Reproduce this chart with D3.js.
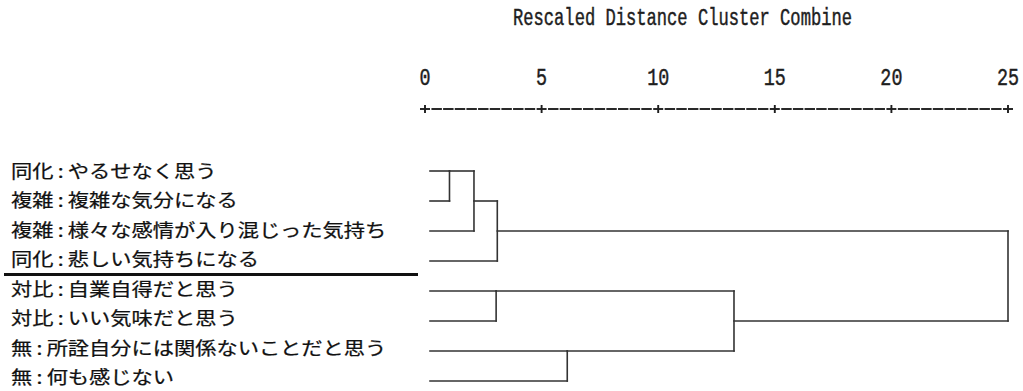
<!DOCTYPE html>
<html>
<head>
<meta charset="utf-8">
<script src="https://cdn.jsdelivr.net/npm/d3@7"></script>
<style>
  html, body { margin: 0; padding: 0; background: #fff; }
  svg { display: block; }
</style>
</head>
<body>
<div id="chart"></div>
<script>
// ---- data ----
const title = "Rescaled Distance Cluster Combine";
const tickValues = [0, 5, 10, 15, 20, 25];
const leafLabels = [
  "同化:やるせなく思う",
  "複雑:複雑な気分になる",
  "複雑:様々な感情が入り混じった気持ち",
  "同化:悲しい気持ちになる",
  "対比:自業自得だと思う",
  "対比:いい気味だと思う",
  "無:所詮自分には関係ないことだと思う",
  "無:何も感じない"
];
// merges (ids 0-7 are leaves, merge k gets id 8+k)
const mergeLeft     = [0, 8, 4, 9, 6, 10, 11];
const mergeRight    = [1, 2, 5, 3, 7, 12, 13];
const mergeDistance = [1.05, 2.1, 3.05, 3.1, 6.1, 13.25, 25];
// rows after which a group separator is drawn
const separatorAfter = [3];

// ---- layout ----
const W = 1023, H = 391;
const svg = d3.select("#chart").append("svg")
  .attr("width", W).attr("height", H);

const x = d3.scaleLinear().domain([0, 25]).range([425, 1008]);
const y = d3.scaleLinear().domain([0, leafLabels.length - 1]).range([171, 381]);
const yLab = d3.scaleLinear().domain([0, leafLabels.length - 1]).range([171, 377.5]);
const ink = "#1e1e1e";
const lineCol = "#333";
const monoFont = "Liberation Mono, DejaVu Sans Mono, monospace";

// title
svg.append("text")
  .attr("x", 513).attr("y", 25)
  .attr("font-family", monoFont)
  .attr("font-size", 23)
  .attr("textLength", 339)
  .attr("lengthAdjust", "spacingAndGlyphs")
  .attr("fill", ink).attr("stroke", ink).attr("stroke-width", 0.45)
  .text(title);

// tick labels
svg.append("g").selectAll("text").data(tickValues).join("text")
  .attr("transform", d => `translate(${x(d)},85) scale(0.8,1)`)
  .attr("text-anchor", "middle")
  .attr("font-family", monoFont)
  .attr("font-size", 23)
  .attr("fill", ink).attr("stroke", ink).attr("stroke-width", 0.45)
  .text(d => d);

// axis: "+---------+" style
const axisY = 109;
const axisG = svg.append("g").attr("stroke", ink).attr("stroke-width", 1.9);
axisG.selectAll("line.h").data(tickValues).join("line").attr("class", "h")
  .attr("x1", d => x(d) - 5).attr("x2", d => x(d) + 5)
  .attr("y1", axisY).attr("y2", axisY);
axisG.selectAll("line.v").data(tickValues).join("line").attr("class", "v")
  .attr("x1", d => x(d)).attr("x2", d => x(d))
  .attr("y1", axisY - 4).attr("y2", axisY + 4);
const dashes = [];
for (let i = 0; i < tickValues.length - 1; i++) {
  const a = x(tickValues[i]), b = x(tickValues[i + 1]);
  const cell = (b - a) / 10;
  for (let k = 1; k <= 9; k++) {
    dashes.push([a + k * cell - cell / 2 + 0.6, a + k * cell + cell / 2 - 0.6]);
  }
}
axisG.selectAll("line.d").data(dashes).join("line").attr("class", "d")
  .attr("x1", d => d[0]).attr("x2", d => d[1])
  .attr("y1", axisY).attr("y2", axisY);

// leaf labels
const labG = svg.append("g")
  .attr("font-family", "Noto Sans CJK JP, Noto Sans CJK SC, sans-serif")
  .attr("font-size", 18)
  .attr("font-weight", 400)
  .attr("fill", "#111")
  .attr("stroke", "#111").attr("stroke-width", 0.25);
leafLabels.forEach((lab, i) => {
  const [pre, rest] = lab.split(":");
  const t = labG.append("text")
    .attr("transform", `translate(11,${yLab(i) + 6.8}) scale(1.18,1)`);
  t.append("tspan").text(pre);
  t.append("tspan").attr("dx", 3.6).text(":");
  t.append("tspan").attr("dx", 3.6).text(rest);
});

// separator lines
svg.append("g").selectAll("line").data(separatorAfter).join("line")
  .attr("x1", 4).attr("x2", 418)
  .attr("y1", d => (y(d) + y(d + 1)) / 2 - 1.5)
  .attr("y2", d => (y(d) + y(d + 1)) / 2 - 1.5)
  .attr("stroke", "#111").attr("stroke-width", 3);

// dendrogram
const n = leafLabels.length;
const nodeX = [], nodePos = [];
const leafX = x(0) + 5;
for (let i = 0; i < n; i++) { nodeX[i] = leafX; nodePos[i] = i; }
const segs = [];
mergeLeft.forEach((a, k) => {
  const b = mergeRight[k];
  const id = n + k;
  const xm = x(mergeDistance[k]);
  const pa = nodePos[a], pb = nodePos[b];
  segs.push([nodeX[a], y(pa), xm, y(pa)]);
  segs.push([nodeX[b], y(pb), xm, y(pb)]);
  segs.push([xm, y(Math.min(pa, pb)), xm, y(Math.max(pa, pb))]);
  nodeX[id] = xm;
  nodePos[id] = Math.floor((pa + pb) / 2);
});
svg.append("g").selectAll("line").data(segs).join("line")
  .attr("x1", d => d[0]).attr("y1", d => d[1])
  .attr("x2", d => d[2]).attr("y2", d => d[3])
  .attr("stroke", lineCol).attr("stroke-width", 1.6)
  .attr("stroke-linecap", "square");
</script>
</body>
</html>
